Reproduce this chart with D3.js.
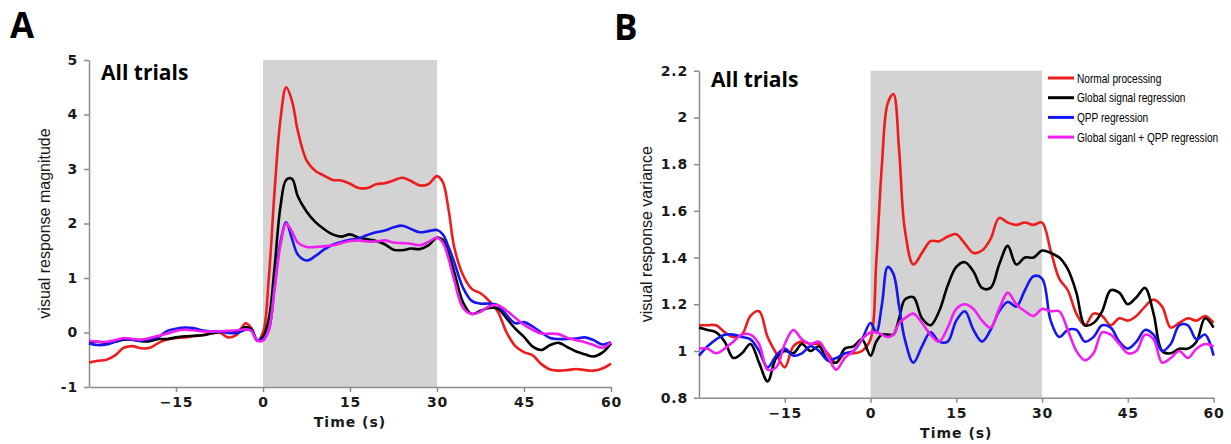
<!DOCTYPE html>
<html>
<head>
<meta charset="utf-8">
<script src="https://cdn.jsdelivr.net/npm/d3@7"></script>
<style>
  body { margin: 0; background: #fff; }
  .tick text { font-family: "DejaVu Sans", sans-serif; font-weight: bold; font-size: 14px; letter-spacing: 0.8px; fill: #1a1a1a; }
  .tick line, .domain { stroke: #8c8c8c; stroke-width: 1.5; }
  .ylab { font-family: "Liberation Sans", Arial, sans-serif; font-size: 16px; fill: #1a1a1a; }
  .xlab { font-family: "DejaVu Sans", sans-serif; font-weight: bold; font-size: 14px; letter-spacing: 1px; fill: #1a1a1a; }
  .panel { font-family: "Open Sans", sans-serif; font-weight: bold; font-size: 35px; fill: #000; }
  .note { font-family: "Open Sans", sans-serif; font-weight: bold; font-size: 21px; fill: #000; }
  .leg { font-family: "Liberation Sans", Arial, sans-serif; font-size: 12.5px; fill: #000; }
</style>
</head>
<body>
<div id="chart"></div>
<script>
// series names / colours
const seriesNames = ["Normal processing", "Global signal regression", "QPP regression", "Global siganl + QPP regression"];
const seriesColors = ["#ee1c1c", "#000000", "#1616f0", "#f01ef0"];

// panel A: visual response magnitude
const timesA = [-30,-28.5,-27,-25.5,-24,-22.5,-21,-19.5,-18,-16.5,-15,-13.5,-12,-10.5,-9,-7.5,-6,-4.5,-3,
  -2,-1,0,1,2,3,4,5,6,
  7.5,9,10.5,12,13.5,15,16.5,18,19.5,21,22.5,24,25.5,27,28.5,
  30,31,32,33,
  34.5,36,37.5,39,40.5,42,43.5,45,46.5,48,49.5,51,52.5,54,55.5,57,58.5,60];
const normalA = [-0.55,-0.52,-0.50,-0.42,-0.28,-0.25,-0.29,-0.28,-0.19,-0.13,-0.10,-0.09,-0.07,-0.05,-0.02,0.00,-0.09,-0.04,0.17,
  0.08,-0.15,0.00,1.00,2.60,3.90,4.50,4.25,3.70,
  3.16,2.97,2.88,2.80,2.79,2.73,2.65,2.65,2.72,2.74,2.79,2.84,2.78,2.70,2.72,
  2.87,2.76,2.25,1.55,
  1.05,0.80,0.72,0.58,0.38,0.00,-0.25,-0.36,-0.42,-0.58,-0.68,-0.70,-0.69,-0.67,-0.69,-0.70,-0.66,-0.57];
const gsrA = [-0.18,-0.17,-0.19,-0.17,-0.13,-0.13,-0.16,-0.16,-0.12,-0.12,-0.09,-0.07,-0.06,-0.05,-0.02,0.01,0.02,0.02,0.10,
  0.06,-0.15,-0.08,0.25,1.20,2.30,2.80,2.82,2.50,
  2.22,2.03,1.90,1.80,1.76,1.80,1.74,1.71,1.68,1.62,1.52,1.51,1.54,1.53,1.60,
  1.74,1.70,1.45,1.10,
  0.55,0.34,0.40,0.45,0.44,0.26,0.07,-0.08,-0.26,-0.32,-0.23,-0.19,-0.27,-0.35,-0.40,-0.44,-0.37,-0.20];
const qppA = [-0.20,-0.23,-0.22,-0.17,-0.12,-0.13,-0.15,-0.12,-0.08,0.03,0.07,0.09,0.08,0.04,0.02,0.02,-0.01,-0.01,0.05,
  0.04,-0.14,-0.12,0.05,0.85,1.65,2.02,1.72,1.43,
  1.32,1.40,1.52,1.61,1.66,1.70,1.73,1.79,1.84,1.87,1.93,1.96,1.90,1.84,1.86,
  1.88,1.80,1.57,1.28,
  0.82,0.58,0.53,0.53,0.50,0.32,0.17,0.19,0.11,0.00,-0.10,-0.12,-0.12,-0.11,-0.09,-0.14,-0.22,-0.18];
const gsrQppA = [-0.15,-0.17,-0.17,-0.14,-0.10,-0.12,-0.13,-0.10,-0.06,-0.02,0.03,0.05,0.04,0.02,0.02,0.02,0.03,0.04,0.06,
  0.03,-0.15,-0.15,0.05,0.80,1.60,2.00,1.85,1.65,
  1.57,1.57,1.58,1.60,1.64,1.68,1.69,1.67,1.67,1.69,1.65,1.64,1.63,1.60,1.66,
  1.74,1.65,1.35,0.95,
  0.45,0.34,0.38,0.48,0.50,0.40,0.27,0.14,0.05,-0.02,-0.02,-0.03,-0.10,-0.14,-0.18,-0.23,-0.28,-0.18];

// panel B: visual response variance
const timesB = [-30,-28.5,-27,-25.5,-24,-22.5,-21,-19.5,-18,-16.5,-15,-13.5,-12,-10.5,-9,-7.5,-6,-4.5,-3,-1.5,
  0,1,2,3,4,5,6,
  7.5,9,10.5,12,13.5,15,16.5,18,19.5,21,22.5,24,25.5,27,28.5,
  30,31.5,33,34.5,36,37.5,39,40.5,42,43.5,45,46.5,48,49.5,51,52.5,54,55.5,57,58.5,60];
const normalB = [1.11,1.11,1.11,1.08,1.06,1.07,1.15,1.17,1.06,0.99,0.93,1.02,1.04,1.03,1.03,0.99,0.95,0.99,0.99,1.00,
  1.05,1.38,1.80,2.06,2.10,1.86,1.52,
  1.37,1.42,1.47,1.47,1.49,1.50,1.46,1.42,1.43,1.48,1.57,1.55,1.54,1.55,1.54,
  1.55,1.43,1.31,1.26,1.16,1.11,1.16,1.15,1.11,1.14,1.13,1.15,1.19,1.22,1.19,1.10,1.12,1.14,1.13,1.15,1.12];
const gsrB = [1.10,1.09,1.08,1.04,0.97,0.99,1.03,0.95,0.87,0.97,1.00,0.99,1.03,1.00,1.02,0.96,0.95,1.01,1.02,1.05,
  0.98,1.04,1.07,1.07,1.07,1.14,1.22,
  1.23,1.14,1.11,1.17,1.28,1.36,1.38,1.34,1.27,1.27,1.37,1.45,1.37,1.40,1.40,
  1.43,1.42,1.40,1.35,1.25,1.11,1.12,1.17,1.26,1.25,1.20,1.23,1.27,1.16,1.00,0.99,1.01,1.01,1.04,1.14,1.10];
const qppB = [0.98,1.02,1.05,1.07,1.07,1.06,1.05,1.00,0.93,0.98,1.01,0.98,0.99,1.02,1.00,0.96,0.97,0.99,1.00,1.05,
  1.12,1.08,1.20,1.36,1.33,1.19,1.05,
  0.95,1.02,1.08,1.04,1.04,1.13,1.17,1.09,1.04,1.09,1.17,1.21,1.19,1.26,1.32,
  1.31,1.13,1.06,1.09,1.09,1.04,1.06,1.11,1.10,1.04,1.01,1.04,1.09,1.07,1.00,1.03,1.11,1.11,1.05,1.07,0.98];
const gsrQppB = [1.01,1.01,0.99,1.01,1.04,1.07,1.07,1.03,0.92,0.93,1.03,1.09,1.05,1.03,1.04,0.98,0.92,0.97,1.00,1.05,
  1.08,1.08,1.07,1.06,1.07,1.12,1.14,
  1.16,1.12,1.07,1.04,1.10,1.18,1.20,1.18,1.13,1.10,1.18,1.25,1.20,1.17,1.15,
  1.18,1.17,1.17,1.09,1.00,0.96,0.99,1.08,1.07,1.03,0.99,1.00,1.07,1.05,0.95,0.97,1.00,0.97,1.01,1.03,1.02];

// axes
const xTicks = [-15, 0, 15, 30, 45, 60];
const yTicksA = [-1, 0, 1, 2, 3, 4, 5];
const yTicksB = [0.8, 1, 1.2, 1.4, 1.6, 1.8, 2, 2.2];
const stimWindow = [0, 30];

const svg = d3.select("#chart").append("svg")
  .attr("width", 1231)
  .attr("height", 444);

svg.append("rect").attr("width", 1231).attr("height", 444).attr("fill", "white");

function drawPanel(p) {
  const x = d3.scaleLinear().domain([-30, 60]).range([p.left, p.right]);
  const y = d3.scaleLinear().domain(p.yDomain).range([p.bottom, p.top]);
  const g = svg.append("g");

  // stimulus window
  g.append("rect")
    .attr("x", x(stimWindow[0]))
    .attr("y", y(p.yDomain[1]))
    .attr("width", x(stimWindow[1]) - x(stimWindow[0]))
    .attr("height", y(p.yDomain[0]) - y(p.yDomain[1]))
    .attr("fill", "#d3d3d3");

  g.append("g")
    .attr("transform", "translate(0," + p.bottom + ")")
    .call(d3.axisBottom(x).tickValues(xTicks).tickSize(5).tickSizeOuter(0).tickPadding(5).tickFormat(d3.format("d")));

  g.append("g")
    .attr("transform", "translate(" + p.left + ",0)")
    .call(d3.axisLeft(y).tickValues(p.yTicks).tickSize(5).tickSizeOuter(0).tickPadding(6).tickFormat(d => String(+d.toFixed(1))));

  const line = d3.line()
    .x((d, i) => x(p.times[i]))
    .y(d => y(d))
    .curve(d3.curveCatmullRom.alpha(0.5));

  p.series.forEach((s, k) => {
    g.append("path")
      .datum(s)
      .attr("fill", "none")
      .attr("stroke", seriesColors[k])
      .attr("stroke-width", 2.6)
      .attr("stroke-linejoin", "round")
      .attr("d", line);
  });

  g.append("text").attr("class", "ylab")
    .attr("transform", "translate(" + p.ylabX + "," + ((p.top + p.bottom) / 2) + ") rotate(-90)")
    .attr("text-anchor", "middle")
    .text(p.ylab);

  g.append("text").attr("class", "xlab")
    .attr("x", (p.left + p.right) / 2)
    .attr("y", p.bottom + 40)
    .attr("text-anchor", "middle")
    .text("Time (s)");

  g.append("text").attr("class", "note")
    .attr("x", p.left + 12)
    .attr("y", p.noteY)
    .text("All trials");

  g.append("text").attr("class", "panel")
    .attr("x", p.labelX)
    .attr("y", p.labelY)
    .text(p.label);
}

drawPanel({
  label: "A", labelX: 10, labelY: 38,
  left: 89, right: 611, top: 60, bottom: 387, noteY: 80,
  yDomain: [-1, 5], yTicks: yTicksA, ylabX: 50,
  ylab: "visual response magnitude",
  times: timesA, series: [normalA, gsrA, qppA, gsrQppA]
});

drawPanel({
  label: "B", labelX: 614, labelY: 40,
  left: 699, right: 1213.6, top: 70.7, bottom: 397.7, noteY: 87,
  yDomain: [0.8, 2.2], yTicks: yTicksB, ylabX: 652,
  ylab: "visual response variance",
  times: timesB, series: [normalB, gsrB, qppB, gsrQppB]
});

// legend (narrow lettering as in the original)
const legend = svg.append("g").attr("transform", "translate(1048,78)");
seriesNames.forEach((name, i) => {
  const row = legend.append("g").attr("transform", "translate(0," + (i * 19.7) + ")");
  row.append("line").attr("x1", 0).attr("x2", 26).attr("y1", 0).attr("y2", 0)
    .attr("stroke", seriesColors[i]).attr("stroke-width", 3);
  row.append("text").attr("class", "leg")
    .attr("transform", "translate(29,4.5) scale(0.81,1)")
    .text(name);
});
</script>
</body>
</html>
